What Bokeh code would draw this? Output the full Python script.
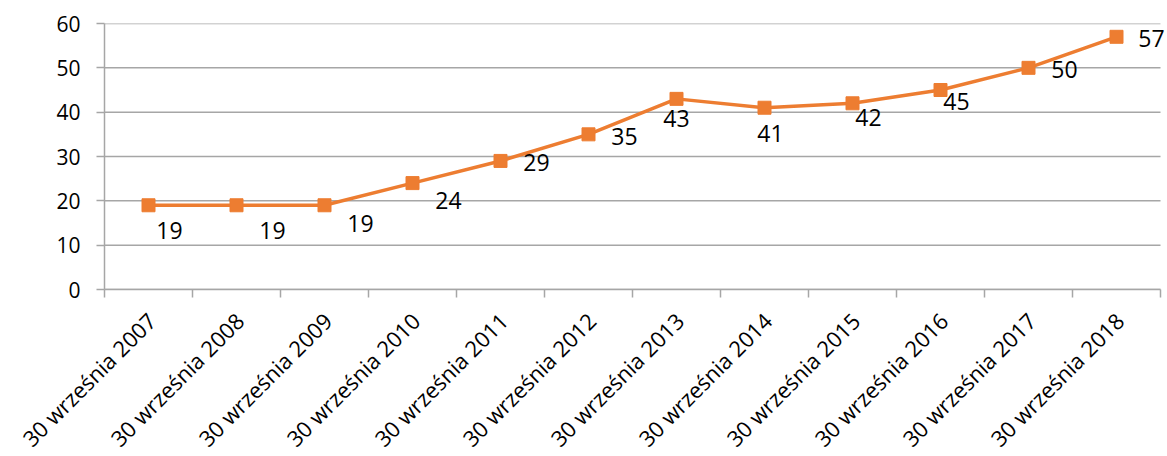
from bokeh.plotting import figure
from bokeh.layouts import column
from bokeh.models import ColumnDataSource, Range1d, FixedTicker, LabelSet
from bokeh.core.properties import value
from bokeh.embed import file_html
from bokeh.resources import INLINE
import math

# ---- data ----
categories = ["30 września 2007", "30 września 2008", "30 września 2009",
              "30 września 2010", "30 września 2011", "30 września 2012",
              "30 września 2013", "30 września 2014", "30 września 2015",
              "30 września 2016", "30 września 2017", "30 września 2018"]
values = [19, 19, 19, 24, 29, 35, 43, 41, 42, 45, 50, 57]
y_ticks = [0, 10, 20, 30, 40, 50, 60]

# ---- label placement (style, pixels) ----
label_dx = [21, 36, 36, 36, 36, 36, 0, 6, 16, 16, 36, 35]
label_dy = [25, 25, 18, 17, 2, 2, 20, 26, 14, 11, 2, 2]

ORANGE = "#ED7D31"
GRID = "#A6A6A6"
FONT = "Open Sans"

# ---- layout constants (pixels) ----
W = 1167
LEFT = 104          # left edge of plotting area
RIGHT_PAD = 7       # space right of last category boundary
TOP = 23
TOP_H = 305         # height of upper figure
BOTTOM_BORDER = 16  # x-axis tick area in upper figure
LABEL_H = 456 - TOP_H

n = len(categories)
cat_px = (W - LEFT - RIGHT_PAD) / n
x_end = n + RIGHT_PAD / cat_px

xs = [i + 0.5 for i in range(n)]
src = ColumnDataSource(dict(
    x=xs, y=values, text=[str(v) for v in values],
    dx=label_dx, dy=[-d for d in label_dy],
))
grid_src = ColumnDataSource(dict(y=y_ticks, x0=[0] * len(y_ticks),
                                 x1=[n] * len(y_ticks)))

p = figure(width=W, height=TOP_H, output_backend="svg", toolbar_location=None,
           x_range=Range1d(0, x_end), y_range=Range1d(0, 60),
           min_border_left=LEFT, min_border_right=0, min_border_top=TOP,
           min_border_bottom=BOTTOM_BORDER)
p.frame_align = False
p.outline_line_color = None
p.background_fill_color = "white"
p.border_fill_color = "white"
p.xgrid.grid_line_color = None
p.ygrid.grid_line_color = None

# horizontal gridlines across the category area
p.segment(x0="x0", x1="x1", y0="y", y1="y", source=grid_src,
          line_color=GRID, line_width=1.5, level="underlay")

p.line("x", "y", source=src, line_color=ORANGE, line_width=3.5)
p.scatter("x", "y", source=src, marker="square", size=13,
          fill_color=ORANGE, line_color=ORANGE)

labels = LabelSet(x="x", y="y", text="text", x_offset="dx", y_offset="dy",
                  source=src, text_align="center", text_baseline="middle",
                  text_font=value(FONT), text_font_size="23px",
                  text_color="black")
p.add_layout(labels)

# x axis: only boundary tick marks
xa = p.xaxis[0]
xa.ticker = FixedTicker(ticks=[], minor_ticks=list(range(n + 1)))
xa.bounds = (0, n)
xa.major_tick_line_color = None
xa.major_tick_out = 0
xa.major_tick_in = 0
xa.minor_tick_line_color = GRID
xa.minor_tick_out = 8
xa.minor_tick_in = 0
xa.minor_tick_line_width = 1.5
xa.axis_line_color = GRID
xa.axis_line_width = 1.5
xa.major_label_text_font_size = "0px"
xa.major_label_standoff = 0

# y axis
ya = p.yaxis[0]
ya.ticker = FixedTicker(ticks=y_ticks)
ya.major_tick_line_color = GRID
ya.major_tick_line_width = 1.5
ya.major_tick_out = 8
ya.major_tick_in = 0
ya.minor_tick_line_color = None
ya.axis_line_color = GRID
ya.axis_line_width = 1.5
ya.major_label_text_font = FONT
ya.major_label_text_font_size = "21px"
ya.major_label_text_color = "black"
ya.major_label_standoff = 16

# ---- lower strip with rotated category labels (same x scale) ----
q = figure(width=W, height=LABEL_H, output_backend="svg", toolbar_location=None,
           x_range=Range1d(-LEFT / cat_px, x_end), y_range=Range1d(0, 1),
           min_border_left=0, min_border_right=0, min_border_top=0,
           min_border_bottom=0, x_axis_location=None, y_axis_location=None)
q.frame_align = False
q.outline_line_color = None
q.xgrid.grid_line_color = None
q.ygrid.grid_line_color = None
q.background_fill_color = "white"
q.border_fill_color = "white"
cat_src = ColumnDataSource(dict(x=xs, y=[1] * n, text=categories))
q.text(x="x", y="y", text="text", source=cat_src, angle=math.pi / 4,
       x_offset=3, y_offset=11, text_align="right", text_baseline="middle",
       text_font=value(FONT), text_font_size="22px", text_color="black")

layout = column(p, q, spacing=0)
open("out.html", "w").write(file_html(layout, INLINE))
